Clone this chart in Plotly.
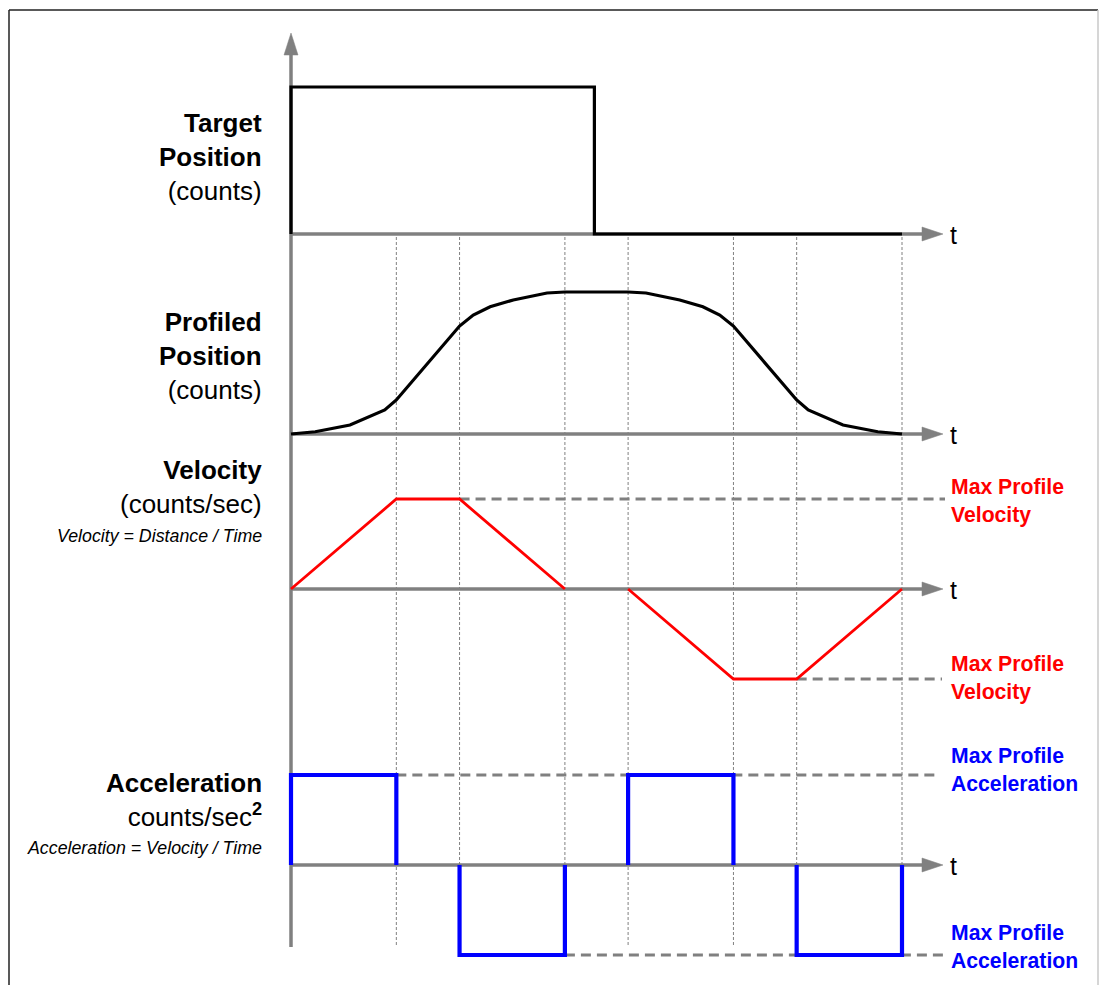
import plotly.graph_objects as go

W, H = 1099, 985

# ---------------- data ----------------
# time breakpoints of the motion profile (ms)
T_GRID = [0, 100, 160, 260, 320, 420, 480, 580]

# Target position: step up at t=0, step down at t=288
TARGET_T = [0, 0, 288, 288, 580]
TARGET_Y = [0, 1, 1, 0, 0]

# Profiled position (normalised)
PROF_T = [0, 23, 56, 89, 100, 160, 173, 189, 211, 243, 260,
          320, 337, 369, 391, 407, 420, 480, 491, 524, 557, 580]
PROF_Y = [0, 0.016, 0.063, 0.169, 0.24, 0.76, 0.838, 0.896, 0.944, 0.993, 1.0,
          1.0, 0.993, 0.944, 0.896, 0.838, 0.76, 0.24, 0.169, 0.063, 0.016, 0]

# Velocity (normalised to max profile velocity)
VEL_T = [0, 100, 160, 260, None, 320, 420, 480, 580]
VEL_Y = [0, 1, 1, 0, None, 0, -1, -1, 0]
V_MAX = 1.0

# Acceleration pulses (normalised to max profile acceleration)
ACC_T = [0, 0, 100, 100, None, 160, 160, 260, 260, None,
         320, 320, 420, 420, None, 480, 480, 580, 580]
ACC_Y = [0, 1, 1, 0, None, 0, -1, -1, 0, None,
         0, 1, 1, 0, None, 0, -1, -1, 0]
A_MAX = 1.0

# ---------------- geometry helpers ----------------
X0_PX, X1_PX = 291, 902          # pixel of t=0 and t=580
SCALE = (X1_PX - X0_PX) / 580.0
XR = [(0 - X0_PX) / SCALE, (W - X0_PX) / SCALE]


def t_of(px):
    return (px - X0_PX) / SCALE


def pxp(x):
    return x / W


def pyp(y):
    return 1 - y / H


def panel(zero_px, one_px, top_px, bot_px):
    unit = zero_px - one_px
    rng = [(zero_px - bot_px) / unit, (zero_px - top_px) / unit]
    dom = [pyp(bot_px), pyp(top_px)]
    return dict(range=rng, domain=dom, visible=False, fixedrange=True)


AXIS_Y = [234, 434, 589, 865]
GRAY = "#808080"
FONT = "Liberation Sans, Arial, sans-serif"

fig = go.Figure()

fig.add_trace(go.Scatter(x=TARGET_T, y=TARGET_Y, mode="lines", yaxis="y",
                         line=dict(color="black", width=3.2), hoverinfo="skip"))
fig.add_trace(go.Scatter(x=PROF_T, y=PROF_Y, mode="lines", yaxis="y2",
                         line=dict(color="black", width=3.2), hoverinfo="skip"))
# dashed max lines
fig.add_trace(go.Scatter(x=[T_GRID[2], t_of(945)], y=[V_MAX, V_MAX], mode="lines", yaxis="y3",
                         line=dict(color=GRAY, width=3, dash="10px,6px"), hoverinfo="skip"))
fig.add_trace(go.Scatter(x=[T_GRID[6], t_of(942)], y=[-V_MAX, -V_MAX], mode="lines", yaxis="y3",
                         line=dict(color=GRAY, width=3, dash="10px,6px"), hoverinfo="skip"))
fig.add_trace(go.Scatter(x=[T_GRID[1], t_of(940)], y=[A_MAX, A_MAX], mode="lines", yaxis="y4",
                         line=dict(color=GRAY, width=3, dash="10px,6px"), hoverinfo="skip"))
fig.add_trace(go.Scatter(x=[T_GRID[3], t_of(945)], y=[-A_MAX, -A_MAX], mode="lines", yaxis="y4",
                         line=dict(color=GRAY, width=3, dash="10px,6px"), hoverinfo="skip"))
fig.add_trace(go.Scatter(x=VEL_T, y=VEL_Y, mode="lines", yaxis="y3", connectgaps=False,
                         line=dict(color="#FF0000", width=2.8), hoverinfo="skip"))
fig.add_trace(go.Scatter(x=ACC_T, y=ACC_Y, mode="lines", yaxis="y4", connectgaps=False,
                         line=dict(color="#0000FF", width=4.2), hoverinfo="skip"))

shapes = []
# frame
shapes.append(dict(type="line", xref="paper", yref="paper", x0=pxp(9), x1=pxp(1098),
                   y0=pyp(10), y1=pyp(10), line=dict(color="#222222", width=1.5)))
shapes.append(dict(type="line", xref="paper", yref="paper", x0=pxp(9), x1=pxp(9),
                   y0=pyp(10), y1=0, line=dict(color="#222222", width=1.5)))
shapes.append(dict(type="line", xref="paper", yref="paper", x0=pxp(1098), x1=pxp(1098),
                   y0=pyp(10), y1=0, line=dict(color="#c8c8c8", width=1.5)))
# dotted vertical grid
for t in T_GRID[1:]:
    shapes.append(dict(type="line", xref="x", yref="paper", x0=t, x1=t,
                       y0=pyp(945), y1=pyp(235), layer="below",
                       line=dict(color=GRAY, width=1, dash="3px,2px")))
# vertical axis + arrow
shapes.append(dict(type="line", xref="paper", yref="paper", x0=pxp(291), x1=pxp(291),
                   y0=pyp(947), y1=pyp(54), layer="below", line=dict(color=GRAY, width=3.5)))
shapes.append(dict(type="path", xref="paper", yref="paper", layer="below",
                   path=f"M{pxp(284)},{pyp(55)} L{pxp(291)},{pyp(33)} L{pxp(298)},{pyp(55)} Z",
                   fillcolor=GRAY, line=dict(color=GRAY, width=0.5)))
# horizontal axes + arrows
for ay in AXIS_Y:
    shapes.append(dict(type="line", xref="paper", yref="paper", x0=pxp(291), x1=pxp(923),
                       y0=pyp(ay), y1=pyp(ay), layer="below", line=dict(color=GRAY, width=3.5)))
    shapes.append(dict(type="path", xref="paper", yref="paper", layer="below",
                       path=f"M{pxp(922)},{pyp(ay - 7)} L{pxp(943)},{pyp(ay)} L{pxp(922)},{pyp(ay + 7)} Z",
                       fillcolor=GRAY, line=dict(color=GRAY, width=0.5)))

ann = []
for ay in AXIS_Y:
    ann.append(dict(x=pxp(948), y=pyp(ay + 1), xref="paper", yref="paper", text="t",
                    showarrow=False, xanchor="left", yanchor="middle",
                    font=dict(family=FONT, size=25, color="black")))


def left_label(text, cy, size=26, italic=False):
    ann.append(dict(x=pxp(264), y=pyp(cy), xref="paper", yref="paper", text=text,
                    showarrow=False, xanchor="right", yanchor="middle", align="right",
                    font=dict(family=FONT, size=size, color="black",
                              style="italic" if italic else "normal")))


left_label("<b>Target</b><br><b>Position</b><br>(counts)", 157)
left_label("<b>Profiled</b><br><b>Position</b><br>(counts)", 356)
left_label("<b>Velocity</b><br>(counts/sec)", 487)
left_label("Velocity = Distance / Time", 536, size=17.8, italic=True)
left_label("<b>Acceleration</b><br>counts/sec<sup><b>2</b></sup>", 800)
left_label("Acceleration = Velocity / Time", 848, size=17.8, italic=True)


def right_label(text, cy, color):
    ann.append(dict(x=pxp(949), y=pyp(cy), xref="paper", yref="paper", text=text,
                    showarrow=False, xanchor="left", yanchor="middle", align="left",
                    font=dict(family=FONT, size=21.2, color=color)))


right_label("<b>Max Profile<br>Velocity</b>", 501, "#FF0000")
right_label("<b>Max Profile<br>Velocity</b>", 678, "#FF0000")
right_label("<b>Max Profile<br>Acceleration</b>", 769, "#0000FF")
right_label("<b>Max Profile<br>Acceleration</b>", 946, "#0000FF")

fig.update_layout(
    width=W, height=H, margin=dict(l=0, r=0, t=0, b=0),
    paper_bgcolor="white", plot_bgcolor="rgba(0,0,0,0)",
    showlegend=False,
    xaxis=dict(range=XR, domain=[0, 1], visible=False, fixedrange=True),
    yaxis=panel(234, 87, 60, 250),
    yaxis2=dict(**panel(434, 292, 270, 450), anchor="x"),
    yaxis3=dict(**panel(589, 499, 480, 700), anchor="x"),
    yaxis4=dict(**panel(865, 775, 760, 970), anchor="x"),
    shapes=shapes, annotations=ann,
)

fig.write_html("out.html", config={"displayModeBar": False},
               post_script="document.body.style.margin='0';document.body.style.overflow='hidden';")
